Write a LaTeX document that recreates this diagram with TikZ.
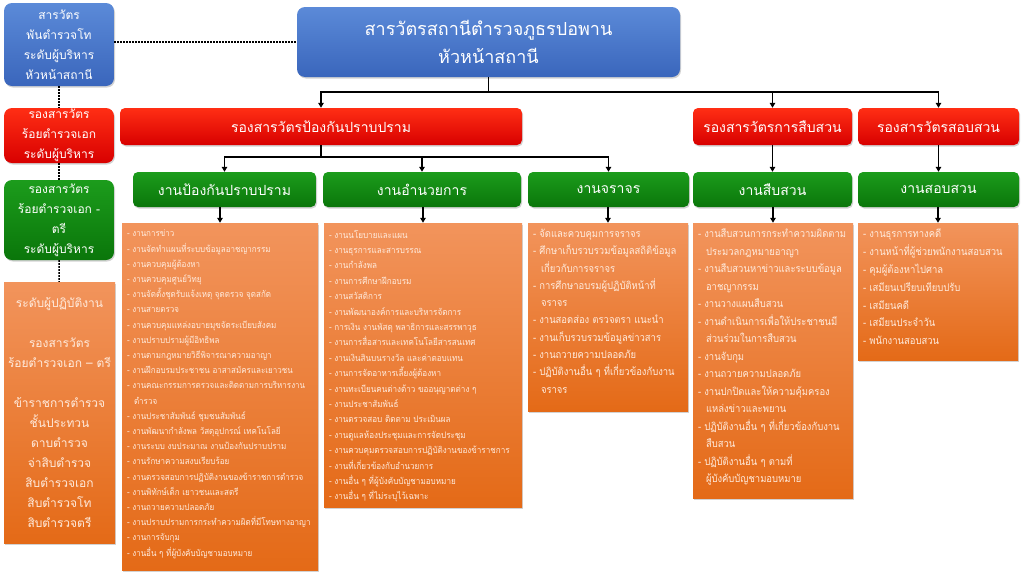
\documentclass[tikz,border=0pt]{standalone}
\usepackage{fontspec}
\setmainfont[Script=Thai]{Loma}
\newfontfamily\listfont[Script=Thai,FakeStretch=0.9]{Loma}
\usetikzlibrary{arrows.meta,shadows,positioning}
\definecolor{bluetop}{HTML}{5B8AD8}
\definecolor{bluebot}{HTML}{3A66BC}
\definecolor{redtop}{HTML}{FF2E14}
\definecolor{redbot}{HTML}{D80000}
\definecolor{greentop}{HTML}{1C9C1C}
\definecolor{greenbot}{HTML}{0A760A}
\definecolor{ortop}{HTML}{F2945C}
\definecolor{orbot}{HTML}{E46A17}
\definecolor{ortext}{HTML}{FFEBDD}

\begin{document}
\begin{tikzpicture}[x=1pt,y=1pt,
  box/.style={rounded corners=5pt,text=white,align=center,inner sep=0pt,
    drop shadow={opacity=0.35,shadow xshift=1pt,shadow yshift=-1.5pt}},
  bluebox/.style={box,top color=bluetop,bottom color=bluebot},
  redbox/.style={box,top color=redtop,bottom color=redbot,minimum height=37pt,font=\fontsize{14}{18}\selectfont},
  greenbox/.style={box,top color=greentop,bottom color=greenbot,minimum height=35pt,font=\fontsize{14}{18}\selectfont},
  sidebox/.style={minimum width=110pt,font=\fontsize{12}{20}\selectfont},
  orbox/.style={box,rounded corners=0pt,top color=ortop,bottom color=orbot},
  items/.style={anchor=north west,align=left,text=ortext,inner sep=0pt},
  arr/.style={line width=1.6pt,-{Triangle[length=5pt,width=5.5pt]}},
  dots/.style={line width=1.6pt,dash pattern=on 1.6pt off 1.4pt},
]
\useasboundingbox[fill=white] (0,0) rectangle (1024,-576);

\node (s1) [bluebox,sidebox,rounded corners=8pt,minimum height=83pt] at (59,-44.5) {สารวัตร\\พันตำรวจโท\\ระดับผู้บริหาร\\หัวหน้าสถานี};
\node (s2) [box,top color=redtop,bottom color=redbot,sidebox,rounded corners=8pt,minimum height=55pt] at (59,-135.5) {รองสารวัตร\\ร้อยตำรวจเอก\\ระดับผู้บริหาร};
\node (s3) [box,top color=greentop,bottom color=greenbot,sidebox,rounded corners=8pt,minimum height=80pt] at (59,-220) {รองสารวัตร\\ร้อยตำรวจเอก -\\ตรี\\ระดับผู้บริหาร};
\node (s4) [orbox,sidebox,minimum width=111pt,minimum height=261pt,text=ortext] at (59.5,-412.5) {ระดับผู้ปฏิบัติงาน\\[20pt]รองสารวัตร\\ร้อยตำรวจเอก -- ตรี\\[20pt]ข้าราชการตำรวจ\\ชั้นประทวน\\ดาบตำรวจ\\จ่าสิบตำรวจ\\สิบตำรวจเอก\\สิบตำรวจโท\\สิบตำรวจตรี};

\node (hd) [bluebox,rounded corners=8pt,minimum width=383pt,minimum height=70pt,font=\fontsize{18}{28}\selectfont] at (488.5,-42) {สารวัตรสถานีตำรวจภูธรปอพาน\\หัวหน้าสถานี};

\node (r1) [redbox,minimum width=402pt] at (321,-126.5) {รองสารวัตรป้องกันปราบปราม};
\node (r2) [redbox,minimum width=159pt] at (772.5,-126.5) {รองสารวัตรการสืบสวน};
\node (r3) [redbox,minimum width=161pt] at (938.5,-126.5) {รองสารวัตรสอบสวน};

\node (g1) [greenbox,minimum width=183pt] at (224.5,-189.5) {งานป้องกันปราบปราม};
\node (g2) [greenbox,minimum width=198pt] at (422,-189.5) {งานอำนวยการ};
\node (g3) [greenbox,minimum width=161pt] at (608.5,-189.5) {งานจราจร};
\node (g4) [greenbox,minimum width=159pt] at (772.5,-189.5) {งานสืบสวน};
\node (g5) [greenbox,minimum width=161pt] at (938.5,-189.5) {งานสอบสวน};

\node (o1) [orbox,minimum width=196pt,minimum height=347pt] at (220,-396.5) {};
\node (o2) [orbox,minimum width=198pt,minimum height=284pt] at (423,-365) {};
\node (o3) [orbox,minimum width=160pt,minimum height=188pt] at (608,-317) {};
\node (o4) [orbox,minimum width=160pt,minimum height=275pt] at (773,-360.5) {};
\node (o5) [orbox,minimum width=160pt,minimum height=137pt] at (938,-291.5) {};

\node (t1) [items,below right=7pt and 5pt of o1.north west,font=\listfont\fontsize{8.9}{15.2}\selectfont] {- งานการข่าว\\
- งานจัดทำแผนที่ระบบข้อมูลอาชญากรรม\\
- งานควบคุมผู้ต้องหา\\
- งานควบคุมศูนย์วิทยุ\\
- งานจัดตั้งชุดรับแจ้งเหตุ จุดตรวจ จุดสกัด\\
- งานสายตรวจ\\
- งานควบคุมแหล่งอบายมุขจัดระเบียบสังคม\\
- งานปราบปรามผู้มีอิทธิพล\\
- งานตามกฎหมายวิธีพิจารณาความอาญา\\
- งานฝึกอบรมประชาชน อาสาสมัครและเยาวชน\\
- งานคณะกรรมการตรวจและติดตามการบริหารงาน\\
\hspace*{7pt}ตำรวจ\\
- งานประชาสัมพันธ์ ชุมชนสัมพันธ์\\
- งานพัฒนากำลังพล วัสดุอุปกรณ์ เทคโนโลยี\\
- งานระบบ งบประมาณ งานป้องกันปราบปราม\\
- งานรักษาความสงบเรียบร้อย\\
- งานตรวจสอบการปฏิบัติงานของข้าราชการตำรวจ\\
- งานพิทักษ์เด็ก เยาวชนและสตรี\\
- งานถวายความปลอดภัย\\
- งานปราบปรามการกระทำความผิดที่มีโทษทางอาญา\\
- งานการจับกุม\\
- งานอื่น ๆ ที่ผู้บังคับบัญชามอบหมาย};
\node (t2) [items,below right=7pt and 5pt of o2.north west,font=\listfont\fontsize{9}{15.4}\selectfont] {- งานนโยบายและแผน\\
- งานธุรการและสารบรรณ\\
- งานกำลังพล\\
- งานการศึกษาฝึกอบรม\\
- งานสวัสดิการ\\
- งานพัฒนาองค์การและบริหารจัดการ\\
- การเงิน งานพัสดุ พลาธิการและสรรพาวุธ\\
- งานการสื่อสารและเทคโนโลยีสารสนเทศ\\
- งานเงินสินบนรางวัล และค่าตอบแทน\\
- งานการจัดอาหารเลี้ยงผู้ต้องหา\\
- งานทะเบียนคนต่างด้าว ขออนุญาตต่าง ๆ\\
- งานประชาสัมพันธ์\\
- งานตรวจสอบ ติดตาม ประเมินผล\\
- งานดูแลห้องประชุมและการจัดประชุม\\
- งานควบคุมตรวจสอบการปฏิบัติงานของข้าราชการ\\
- งานที่เกี่ยวข้องกับอำนวยการ\\
- งานอื่น ๆ ที่ผู้บังคับบัญชามอบหมาย\\
- งานอื่น ๆ ที่ไม่ระบุไว้เฉพาะ};
\node (t3) [items,below right=6pt and 5pt of o3.north west,font=\listfont\fontsize{10.5}{17.3}\selectfont] {- จัดและควบคุมการจราจร\\
- ศึกษาเก็บรวบรวมข้อมูลสถิติข้อมูล\\
\hspace*{8pt}เกี่ยวกับการจราจร\\
- การศึกษาอบรมผู้ปฏิบัติหน้าที่\\
\hspace*{8pt}จราจร\\
- งานสอดส่อง ตรวจตรา แนะนำ\\
- งานเก็บรวบรวมข้อมูลข่าวสาร\\
- งานถวายความปลอดภัย\\
- ปฏิบัติงานอื่น ๆ ที่เกี่ยวข้องกับงาน\\
\hspace*{8pt}จราจร};
\node (t4) [items,below right=6pt and 5pt of o4.north west,font=\listfont\fontsize{10.5}{17.5}\selectfont] {- งานสืบสวนการกระทำความผิดตาม\\
\hspace*{8pt}ประมวลกฎหมายอาญา\\
- งานสืบสวนหาข่าวและระบบข้อมูล\\
\hspace*{8pt}อาชญากรรม\\
- งานวางแผนสืบสวน\\
- งานดำเนินการเพื่อให้ประชาชนมี\\
\hspace*{8pt}ส่วนร่วมในการสืบสวน\\
- งานจับกุม\\
- งานถวายความปลอดภัย\\
- งานปกปิดและให้ความคุ้มครอง\\
\hspace*{8pt}แหล่งข่าวและพยาน\\
- ปฏิบัติงานอื่น ๆ ที่เกี่ยวข้องกับงาน\\
\hspace*{8pt}สืบสวน\\
- ปฏิบัติงานอื่น ๆ ตามที่\\
\hspace*{8pt}ผู้บังคับบัญชามอบหมาย};
\node (t5) [items,below right=6pt and 5pt of o5.north west,font=\listfont\fontsize{10.5}{17.8}\selectfont] {- งานธุรการทางคดี\\
- งานหน้าที่ผู้ช่วยพนักงานสอบสวน\\
- คุมผู้ต้องหาไปศาล\\
- เสมียนเปรียบเทียบปรับ\\
- เสมียนคดี\\
- เสมียนประจำวัน\\
- พนักงานสอบสวน};

\draw[dots] (s1.east |- hd.west) -- (hd.west);
\draw[dots] (s1) -- (s2);
\draw[dots] (s2) -- (s3);
\draw[dots] (s3) -- (s4);

\draw[arr] (hd.south) -- ++(0,-15) -| (r1.north);
\draw[arr] (hd.south) -- ++(0,-15) -| (r2.north);
\draw[arr] (hd.south) -- ++(0,-15) -| (r3.north);
\foreach \g in {g1,g2,g3}
  \draw[arr] (r1.south) -- ++(0,-12) -| (\g.north);
\draw[arr] (r2) -- (g4);
\draw[arr] (r3) -- (g5);
\foreach \i in {1,...,5}
  \draw[arr] (o\i.north |- g\i.south) -- (o\i.north);
\end{tikzpicture}
\end{document}
